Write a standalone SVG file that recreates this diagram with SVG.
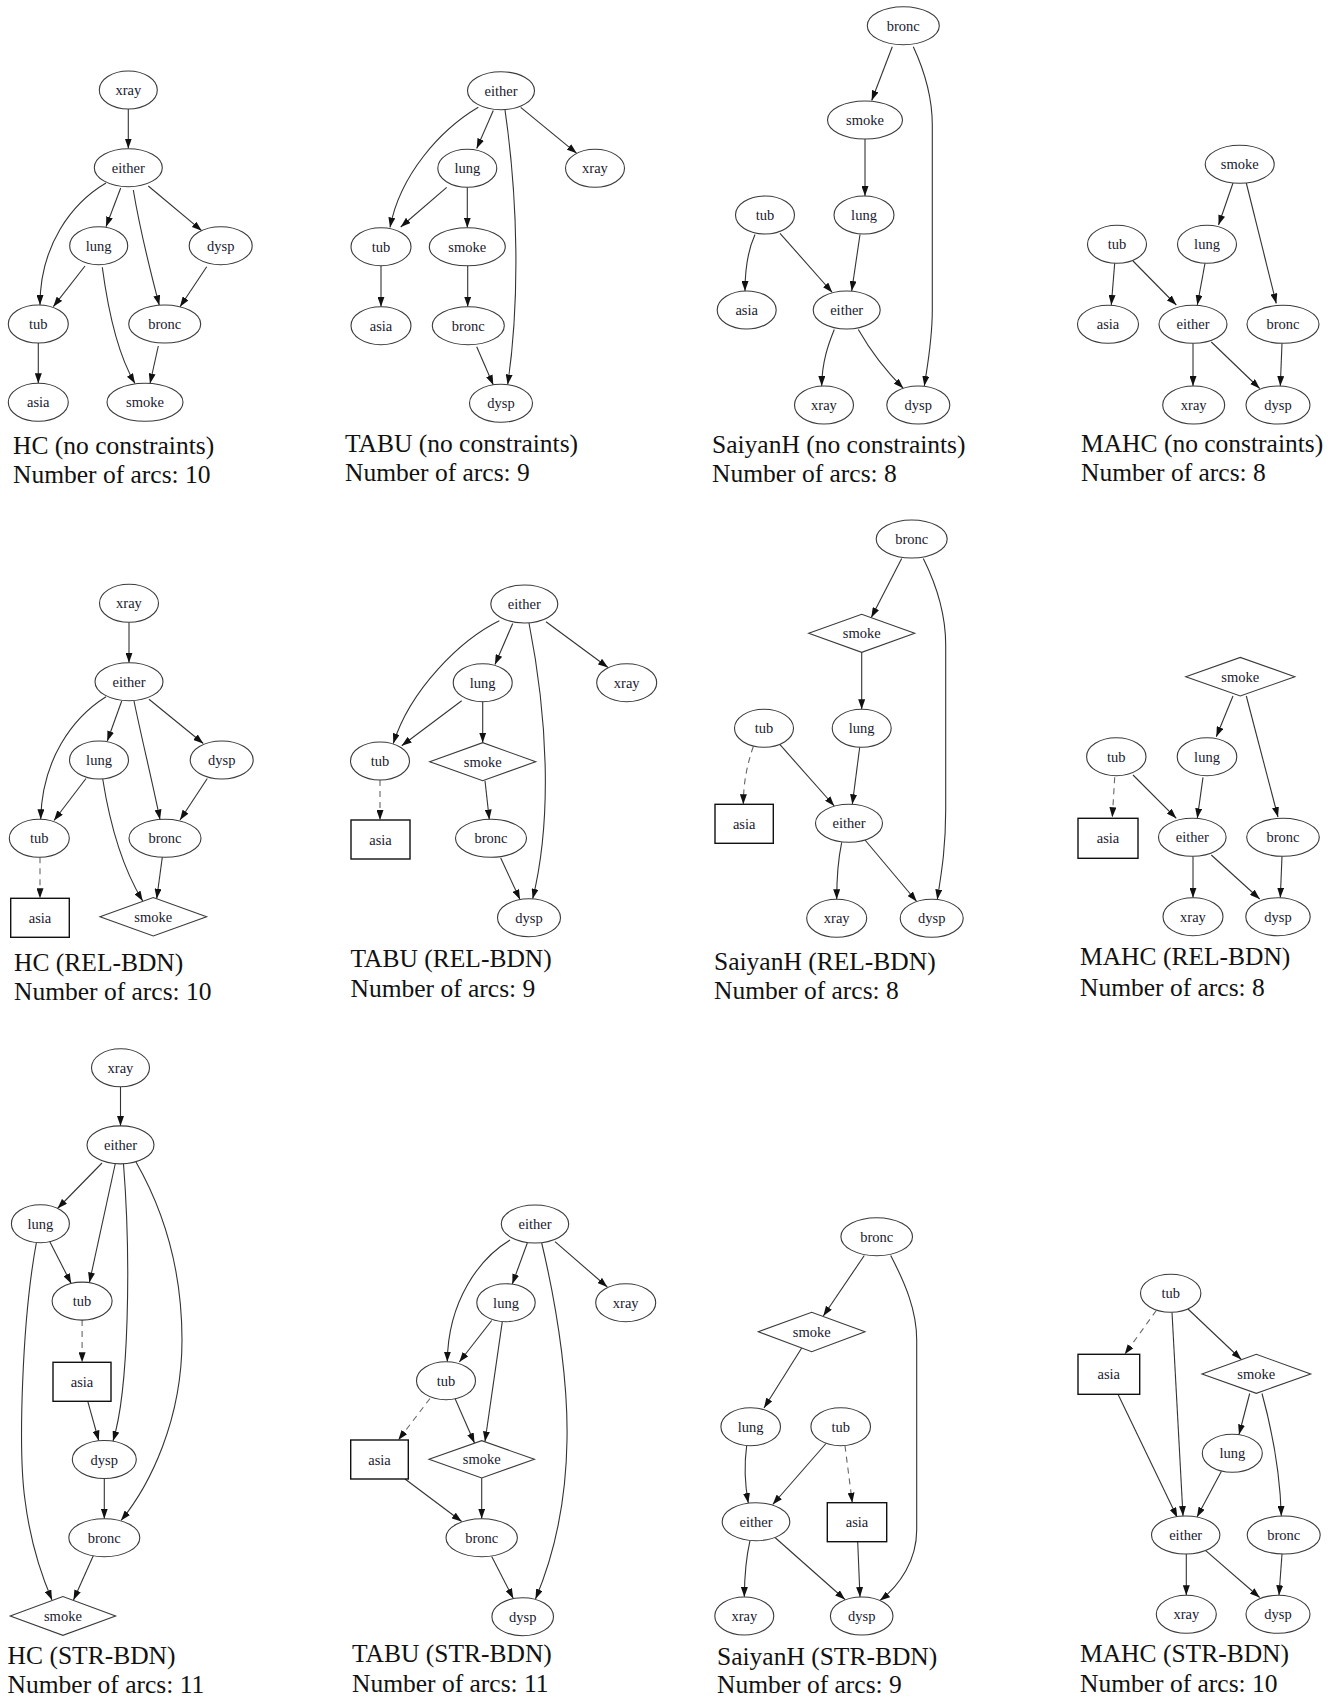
<svg xmlns="http://www.w3.org/2000/svg" width="1338" height="1702" viewBox="0 0 1338 1702">
<style>
.nd ellipse, .nd polygon {fill:#fff; stroke:#3a3a3a; stroke-width:1.1}
.nd rect {fill:#fff; stroke:#111; stroke-width:1.4}
.nd text {font-family:"Liberation Serif","Times New Roman",serif; font-size:14.5px; fill:#1a1a2e; text-anchor:middle}
.e {fill:none; stroke:#333; stroke-width:1.1; marker-end:url(#ah)}
.d {stroke-dasharray:6,5; stroke:#666}
.t {font-family:"Liberation Serif","Times New Roman",serif; font-size:25.5px; fill:#111}
</style>
<defs>
<marker id="ah" viewBox="0 0 10 7" refX="10" refY="3.5" markerWidth="10" markerHeight="7" markerUnits="userSpaceOnUse" orient="auto"><path d="M0,0 L10,3.5 L0,7 z" fill="#111"/></marker>
</defs>
<rect x="0" y="0" width="1338" height="1702" fill="#fff"/>

<!-- Panel 1: HC (no constraints) -->
<g id="p1">
<g id="p1-edges">
<path class="e" d="M128.3,109 L128.3,148.5"/>
<path class="e" d="M120.7,188 L106,226.7"/>
<path class="e" d="M106,183 C72,203 40,245 40,305"/>
<path class="e" d="M133.3,190 C140,230 150,270 159.3,305.3"/>
<path class="e" d="M148.3,186 L201.7,230.7"/>
<path class="e" d="M85,266 L53.3,306.7"/>
<path class="e" d="M102.3,267.3 C108,310 118,355 135,383.5"/>
<path class="e" d="M206.7,266.7 L180,306.7"/>
<path class="e" d="M38.3,343 L38.3,383.3"/>
<path class="e" d="M158.3,346 L150,383.5"/>
</g>
<g id="p1-xray" class="nd"><ellipse cx="128.3" cy="90" rx="29" ry="19"/><text x="128.3" y="95">xray</text></g>
<g id="p1-either" class="nd"><ellipse cx="128.3" cy="167.7" rx="34" ry="19"/><text x="128.3" y="172.7">either</text></g>
<g id="p1-lung" class="nd"><ellipse cx="98.7" cy="245.7" rx="29" ry="19"/><text x="98.7" y="250.7">lung</text></g>
<g id="p1-dysp" class="nd"><ellipse cx="220.7" cy="245.7" rx="31.5" ry="19"/><text x="220.7" y="250.7">dysp</text></g>
<g id="p1-tub" class="nd"><ellipse cx="38.3" cy="324" rx="30" ry="19"/><text x="38.3" y="329">tub</text></g>
<g id="p1-bronc" class="nd"><ellipse cx="164.7" cy="324" rx="36" ry="19"/><text x="164.7" y="329">bronc</text></g>
<g id="p1-asia" class="nd"><ellipse cx="38.3" cy="402.3" rx="30" ry="19"/><text x="38.3" y="407.3">asia</text></g>
<g id="p1-smoke" class="nd"><ellipse cx="145" cy="402.3" rx="38" ry="19"/><text x="145" y="407.3">smoke</text></g>
<text class="t" x="13" y="454">HC (no constraints)</text>
<text class="t" x="13" y="483">Number of arcs: 10</text>
</g>

<!-- Panel 2: TABU (no constraints) -->
<g id="p2">
<g id="p2-edges">
<path class="e" d="M493.3,110.5 L476.7,148.5"/>
<path class="e" d="M478.3,107.3 C440,130 400,175 390,227.5"/>
<path class="e" d="M505,110 C518,200 520,300 507.7,384.5"/>
<path class="e" d="M520.7,107.3 L576.7,153.3"/>
<path class="e" d="M446.7,187.3 L400.7,227"/>
<path class="e" d="M467.3,187.3 L467.3,227.7"/>
<path class="e" d="M381,265.7 L381,306.7"/>
<path class="e" d="M467.7,265.7 L467.7,306.7"/>
<path class="e" d="M476.7,346.7 L493.3,385"/>
</g>
<g id="p2-either" class="nd"><ellipse cx="501" cy="90.7" rx="33.5" ry="19"/><text x="501" y="95.7">either</text></g>
<g id="p2-lung" class="nd"><ellipse cx="467.3" cy="168.3" rx="29.5" ry="19"/><text x="467.3" y="173.3">lung</text></g>
<g id="p2-xray" class="nd"><ellipse cx="595" cy="168.3" rx="29.5" ry="19"/><text x="595" y="173.3">xray</text></g>
<g id="p2-tub" class="nd"><ellipse cx="381" cy="246.7" rx="30" ry="19"/><text x="381" y="251.7">tub</text></g>
<g id="p2-smoke" class="nd"><ellipse cx="467.3" cy="246.7" rx="38" ry="19"/><text x="467.3" y="251.7">smoke</text></g>
<g id="p2-asia" class="nd"><ellipse cx="381" cy="325.7" rx="30" ry="19"/><text x="381" y="330.7">asia</text></g>
<g id="p2-bronc" class="nd"><ellipse cx="468.3" cy="325.7" rx="36" ry="19"/><text x="468.3" y="330.7">bronc</text></g>
<g id="p2-dysp" class="nd"><ellipse cx="501" cy="403.3" rx="31.5" ry="19"/><text x="501" y="408.3">dysp</text></g>
<text class="t" x="345" y="452">TABU (no constraints)</text>
<text class="t" x="345" y="481">Number of arcs: 9</text>
</g>

<!-- Panel 3: SaiyanH (no constraints) -->
<g id="p3">
<g id="p3-edges">
<path class="e" d="M892.3,46.7 L871.7,100.5"/>
<path class="e" d="M913.3,46.7 C925,72 932.3,100 932.3,125 L932.3,310 C932.3,340 928,362 924.3,386"/>
<path class="e" d="M865,139 L865,196"/>
<path class="e" d="M755,234.5 C748,250 745,268 745,291"/>
<path class="e" d="M780,233.3 L832.3,292.5"/>
<path class="e" d="M860,234.5 L851.7,291"/>
<path class="e" d="M834.3,329.5 C828,345 822,362 821.7,386"/>
<path class="e" d="M858.3,329.5 C870,350 885,370 903.3,388.3"/>
</g>
<g id="p3-bronc" class="nd"><ellipse cx="903.3" cy="25.7" rx="36" ry="19"/><text x="903.3" y="30.7">bronc</text></g>
<g id="p3-smoke" class="nd"><ellipse cx="865" cy="120" rx="37.5" ry="19"/><text x="865" y="125">smoke</text></g>
<g id="p3-tub" class="nd"><ellipse cx="765" cy="215" rx="29.5" ry="19"/><text x="765" y="220">tub</text></g>
<g id="p3-lung" class="nd"><ellipse cx="864" cy="215" rx="30" ry="19"/><text x="864" y="220">lung</text></g>
<g id="p3-asia" class="nd"><ellipse cx="746.7" cy="310" rx="29.5" ry="19"/><text x="746.7" y="315">asia</text></g>
<g id="p3-either" class="nd"><ellipse cx="846.7" cy="310" rx="33.5" ry="19"/><text x="846.7" y="315">either</text></g>
<g id="p3-xray" class="nd"><ellipse cx="824" cy="405" rx="29.5" ry="19"/><text x="824" y="410">xray</text></g>
<g id="p3-dysp" class="nd"><ellipse cx="918.3" cy="405" rx="31.5" ry="19"/><text x="918.3" y="410">dysp</text></g>
<text class="t" x="712" y="453">SaiyanH (no constraints)</text>
<text class="t" x="712" y="482">Number of arcs: 8</text>
</g>

<!-- Panel 4: MAHC (no constraints) -->
<g id="p4">
<g id="p4-edges">
<path class="e" d="M1233,183 L1218.5,225"/>
<path class="e" d="M1246.3,183 L1276.3,303.5"/>
<path class="e" d="M1114.7,263.3 L1111.3,305"/>
<path class="e" d="M1133,261 L1176.3,305"/>
<path class="e" d="M1205,263.3 L1197.3,305"/>
<path class="e" d="M1193,343.3 L1193,386"/>
<path class="e" d="M1211.3,342 L1259.7,388.5"/>
<path class="e" d="M1282,343.3 L1280.3,386"/>
</g>
<g id="p4-smoke" class="nd"><ellipse cx="1239.7" cy="164.3" rx="34.5" ry="19"/><text x="1239.7" y="169.3">smoke</text></g>
<g id="p4-tub" class="nd"><ellipse cx="1117" cy="244.3" rx="29.5" ry="19"/><text x="1117" y="249.3">tub</text></g>
<g id="p4-lung" class="nd"><ellipse cx="1207" cy="244.3" rx="29.5" ry="19"/><text x="1207" y="249.3">lung</text></g>
<g id="p4-asia" class="nd"><ellipse cx="1108" cy="324.3" rx="30.5" ry="19"/><text x="1108" y="329.3">asia</text></g>
<g id="p4-either" class="nd"><ellipse cx="1193" cy="324.3" rx="34" ry="19"/><text x="1193" y="329.3">either</text></g>
<g id="p4-bronc" class="nd"><ellipse cx="1283" cy="324.3" rx="36" ry="19"/><text x="1283" y="329.3">bronc</text></g>
<g id="p4-xray" class="nd"><ellipse cx="1193.7" cy="405" rx="31" ry="19"/><text x="1193.7" y="410">xray</text></g>
<g id="p4-dysp" class="nd"><ellipse cx="1278" cy="405" rx="32" ry="19"/><text x="1278" y="410">dysp</text></g>
<text class="t" x="1081" y="452">MAHC (no constraints)</text>
<text class="t" x="1081" y="481">Number of arcs: 8</text>
</g>

<!-- Panel 5: HC (REL-BDN) -->
<g id="p5">
<g id="p5-edges">
<path class="e" d="M129,622.3 L129,662.7"/>
<path class="e" d="M121.7,701 L107.3,741"/>
<path class="e" d="M106,696.7 C72,718 42,760 40.7,819.3"/>
<path class="e" d="M134,701 C142,740 152,780 160,819.5"/>
<path class="e" d="M149,699.3 L203.3,743.5"/>
<path class="e" d="M86,778.5 L54,820.5"/>
<path class="e" d="M102.7,779 C110,825 122,867 142.7,901"/>
<path class="e" d="M207.3,778.5 L180,820"/>
<path class="e d" d="M40,857.3 L40,898.3"/>
<path class="e" d="M162.3,857.3 L156.7,898.7"/>
</g>
<g id="p5-xray" class="nd"><ellipse cx="129" cy="603.3" rx="29.5" ry="19"/><text x="129" y="608.3">xray</text></g>
<g id="p5-either" class="nd"><ellipse cx="129" cy="681.7" rx="34" ry="19"/><text x="129" y="686.7">either</text></g>
<g id="p5-lung" class="nd"><ellipse cx="99" cy="760" rx="29.5" ry="19"/><text x="99" y="765">lung</text></g>
<g id="p5-dysp" class="nd"><ellipse cx="221.7" cy="760" rx="31.5" ry="19"/><text x="221.7" y="765">dysp</text></g>
<g id="p5-tub" class="nd"><ellipse cx="39.3" cy="838.3" rx="30" ry="19"/><text x="39.3" y="843.3">tub</text></g>
<g id="p5-bronc" class="nd"><ellipse cx="165" cy="838.3" rx="36" ry="19"/><text x="165" y="843.3">bronc</text></g>
<g id="p5-asia" class="nd"><rect x="10.7" y="898.3" width="58.6" height="39"/><text x="40" y="922.8">asia</text></g>
<g id="p5-smoke" class="nd"><polygon points="100,916.7 153.3,897.5 206.6,916.7 153.3,935.9"/><text x="153.3" y="921.7">smoke</text></g>
<text class="t" x="14" y="970.6">HC (REL-BDN)</text>
<text class="t" x="14" y="1000">Number of arcs: 10</text>
</g>

<!-- Panel 6: TABU (REL-BDN) -->
<g id="p6">
<g id="p6-edges">
<path class="e" d="M512.7,623.5 L495,664.5"/>
<path class="e" d="M499.3,620.7 C460,640 410,690 393.3,743.5"/>
<path class="e" d="M529,623 C548,720 552,820 532.7,898.7"/>
<path class="e" d="M546,621.7 L608,667.5"/>
<path class="e" d="M461.7,700.7 L401.7,745.7"/>
<path class="e" d="M482.7,701.7 L482.7,742.7"/>
<path class="e d" d="M380,780 L380,820"/>
<path class="e" d="M485,780.7 L489.3,819.5"/>
<path class="e" d="M500.7,858 L520,899.5"/>
</g>
<g id="p6-either" class="nd"><ellipse cx="524.3" cy="604" rx="33.5" ry="19"/><text x="524.3" y="609">either</text></g>
<g id="p6-lung" class="nd"><ellipse cx="482.7" cy="682.7" rx="29.5" ry="19"/><text x="482.7" y="687.7">lung</text></g>
<g id="p6-xray" class="nd"><ellipse cx="626.7" cy="682.7" rx="30" ry="19"/><text x="626.7" y="687.7">xray</text></g>
<g id="p6-tub" class="nd"><ellipse cx="380" cy="761" rx="29.5" ry="19"/><text x="380" y="766">tub</text></g>
<g id="p6-smoke" class="nd"><polygon points="429.7,761.7 482.7,742.7 535.7,761.7 482.7,780.7"/><text x="482.7" y="766.7">smoke</text></g>
<g id="p6-asia" class="nd"><rect x="351" y="820" width="59" height="39"/><text x="380.5" y="844.5">asia</text></g>
<g id="p6-bronc" class="nd"><ellipse cx="491" cy="838.3" rx="35.5" ry="19"/><text x="491" y="843.3">bronc</text></g>
<g id="p6-dysp" class="nd"><ellipse cx="529" cy="917.7" rx="31.5" ry="19"/><text x="529" y="922.7">dysp</text></g>
<text class="t" x="350.5" y="967.3">TABU (REL-BDN)</text>
<text class="t" x="350.5" y="996.6">Number of arcs: 9</text>
</g>

<!-- Panel 7: SaiyanH (REL-BDN) -->
<g id="p7">
<g id="p7-edges">
<path class="e" d="M901.7,558.5 L871.3,617.5"/>
<path class="e" d="M923.3,558.5 C938,588 945.7,615 945.7,645 L945.7,810 C945.7,850 941,875 937.3,899.5"/>
<path class="e" d="M861.7,652.3 L861.7,709.3"/>
<path class="e d" d="M753.3,746.5 C747,765 743.5,782 743.3,804.3"/>
<path class="e" d="M780,744.7 L834.3,806"/>
<path class="e" d="M859.7,747.3 L852.3,804.3"/>
<path class="e" d="M841.7,842.3 C838,860 836.7,878 836.7,899.3"/>
<path class="e" d="M865,840 L916.7,901.5"/>
</g>
<g id="p7-bronc" class="nd"><ellipse cx="911.7" cy="539" rx="35.5" ry="19"/><text x="911.7" y="544">bronc</text></g>
<g id="p7-smoke" class="nd"><polygon points="808.7,633.3 861.7,614.3 914.7,633.3 861.7,652.3"/><text x="861.7" y="638.3">smoke</text></g>
<g id="p7-tub" class="nd"><ellipse cx="764" cy="728.3" rx="29.5" ry="19"/><text x="764" y="733.3">tub</text></g>
<g id="p7-lung" class="nd"><ellipse cx="861.7" cy="728.3" rx="29.5" ry="19"/><text x="861.7" y="733.3">lung</text></g>
<g id="p7-asia" class="nd"><rect x="715" y="804.3" width="58.3" height="39"/><text x="744.2" y="828.8">asia</text></g>
<g id="p7-either" class="nd"><ellipse cx="849" cy="823.3" rx="33.5" ry="19"/><text x="849" y="828.3">either</text></g>
<g id="p7-xray" class="nd"><ellipse cx="836.7" cy="918.3" rx="30" ry="19"/><text x="836.7" y="923.3">xray</text></g>
<g id="p7-dysp" class="nd"><ellipse cx="931.7" cy="918.3" rx="31.5" ry="19"/><text x="931.7" y="923.3">dysp</text></g>
<text class="t" x="714" y="969.5">SaiyanH (REL-BDN)</text>
<text class="t" x="714" y="998.8">Number of arcs: 8</text>
</g>

<!-- Panel 8: MAHC (REL-BDN) -->
<g id="p8">
<g id="p8-edges">
<path class="e" d="M1233,696 L1216.3,736.7"/>
<path class="e" d="M1246.3,696 L1278,817"/>
<path class="e d" d="M1114.7,777.3 L1112.3,817.3"/>
<path class="e" d="M1133,775 L1176.3,818.3"/>
<path class="e" d="M1203,777.3 L1197.3,818.3"/>
<path class="e" d="M1193,856.3 L1193,897.7"/>
<path class="e" d="M1211.3,855 L1259.7,899"/>
<path class="e" d="M1282,856.3 L1280.3,897.7"/>
</g>
<g id="p8-smoke" class="nd"><polygon points="1185.8,676.7 1240.3,657.4 1294.8,676.7 1240.3,696"/><text x="1240.3" y="681.7">smoke</text></g>
<g id="p8-tub" class="nd"><ellipse cx="1116.3" cy="756.7" rx="29.7" ry="19"/><text x="1116.3" y="761.7">tub</text></g>
<g id="p8-lung" class="nd"><ellipse cx="1207" cy="756.7" rx="29.8" ry="19"/><text x="1207" y="761.7">lung</text></g>
<g id="p8-asia" class="nd"><rect x="1078" y="818.3" width="60" height="40"/><text x="1108" y="843.3">asia</text></g>
<g id="p8-either" class="nd"><ellipse cx="1192.3" cy="837.3" rx="33.8" ry="19"/><text x="1192.3" y="842.3">either</text></g>
<g id="p8-bronc" class="nd"><ellipse cx="1283" cy="837.3" rx="36.3" ry="19"/><text x="1283" y="842.3">bronc</text></g>
<g id="p8-xray" class="nd"><ellipse cx="1193" cy="916.7" rx="30" ry="19"/><text x="1193" y="921.7">xray</text></g>
<g id="p8-dysp" class="nd"><ellipse cx="1278" cy="916.7" rx="32.2" ry="19"/><text x="1278" y="921.7">dysp</text></g>
<text class="t" x="1080" y="965">MAHC (REL-BDN)</text>
<text class="t" x="1080" y="995.5">Number of arcs: 8</text>
</g>

<!-- Panel 9: HC (STR-BDN) -->
<g id="p9">
<g id="p9-edges">
<path class="e" d="M120.5,1086.8 L120.5,1126"/>
<path class="e" d="M102,1163 L57.5,1208.5"/>
<path class="e" d="M115.2,1164 L89.4,1282.5"/>
<path class="e" d="M123.5,1164 C131,1260 129,1390 113,1441"/>
<path class="e" d="M136,1162 C172,1225 182,1290 182,1340 C182,1420 150,1485 121,1520.5"/>
<path class="e" d="M49.7,1241.5 L71.2,1283.5"/>
<path class="e" d="M36.4,1242.5 C22,1320 18,1450 25,1500 C30,1540 40,1572 52,1600"/>
<path class="e d" d="M82.1,1320 L82.1,1362.3"/>
<path class="e" d="M87.7,1401.2 L98.7,1440.5"/>
<path class="e" d="M104.3,1478.5 L104.3,1518.7"/>
<path class="e" d="M93.4,1555.5 L73.5,1600"/>
</g>
<g id="p9-xray" class="nd"><ellipse cx="120.5" cy="1067.8" rx="29" ry="19"/><text x="120.5" y="1072.8">xray</text></g>
<g id="p9-either" class="nd"><ellipse cx="120.5" cy="1144.9" rx="33.5" ry="19"/><text x="120.5" y="1149.9">either</text></g>
<g id="p9-lung" class="nd"><ellipse cx="40.4" cy="1223.7" rx="29" ry="19"/><text x="40.4" y="1228.7">lung</text></g>
<g id="p9-tub" class="nd"><ellipse cx="82.1" cy="1301.1" rx="30" ry="19"/><text x="82.1" y="1306.1">tub</text></g>
<g id="p9-asia" class="nd"><rect x="53" y="1362.3" width="58" height="39"/><text x="82" y="1386.8">asia</text></g>
<g id="p9-dysp" class="nd"><ellipse cx="104.3" cy="1459.5" rx="32" ry="19"/><text x="104.3" y="1464.5">dysp</text></g>
<g id="p9-bronc" class="nd"><ellipse cx="104.3" cy="1537.7" rx="35.5" ry="19"/><text x="104.3" y="1542.7">bronc</text></g>
<g id="p9-smoke" class="nd"><polygon points="10.2,1615.9 62.9,1596.5 115.6,1615.9 62.9,1635.3"/><text x="62.9" y="1620.9">smoke</text></g>
<text class="t" x="7.6" y="1664">HC (STR-BDN)</text>
<text class="t" x="7.6" y="1693.3">Number of arcs: 11</text>
</g>

<!-- Panel 10: TABU (STR-BDN) -->
<g id="p10">
<g id="p10-edges">
<path class="e" d="M527.3,1243 L512.3,1284"/>
<path class="e" d="M510,1240 C480,1258 448,1300 447.3,1361.7"/>
<path class="e" d="M541.7,1243 C560,1320 568,1390 567,1440 C566,1510 552,1560 535.5,1599"/>
<path class="e" d="M555,1241.7 L607.3,1287"/>
<path class="e" d="M491.7,1320.5 L459.3,1362"/>
<path class="e" d="M502.3,1321.7 L485,1441.5"/>
<path class="e d" d="M430,1398.5 L398.3,1440"/>
<path class="e" d="M455,1398.5 L474.5,1443"/>
<path class="e" d="M405,1479 L461.7,1521.5"/>
<path class="e" d="M481.7,1478 L481.7,1518.7"/>
<path class="e" d="M491.7,1556.5 L513.3,1598.5"/>
</g>
<g id="p10-either" class="nd"><ellipse cx="535" cy="1224" rx="33.7" ry="19"/><text x="535" y="1229">either</text></g>
<g id="p10-lung" class="nd"><ellipse cx="506" cy="1302.7" rx="29.2" ry="19"/><text x="506" y="1307.7">lung</text></g>
<g id="p10-xray" class="nd"><ellipse cx="625.7" cy="1302.7" rx="30" ry="19"/><text x="625.7" y="1307.7">xray</text></g>
<g id="p10-tub" class="nd"><ellipse cx="446" cy="1380.7" rx="29.5" ry="19"/><text x="446" y="1385.7">tub</text></g>
<g id="p10-asia" class="nd"><rect x="350.7" y="1440" width="57.6" height="39"/><text x="379.5" y="1464.5">asia</text></g>
<g id="p10-smoke" class="nd"><polygon points="429,1459.3 481.7,1440.7 534.4,1459.3 481.7,1478"/><text x="481.7" y="1464.3">smoke</text></g>
<g id="p10-bronc" class="nd"><ellipse cx="481.7" cy="1537.7" rx="35.7" ry="19"/><text x="481.7" y="1542.7">bronc</text></g>
<g id="p10-dysp" class="nd"><ellipse cx="522.7" cy="1616.7" rx="30.8" ry="19"/><text x="522.7" y="1621.7">dysp</text></g>
<text class="t" x="352" y="1662">TABU (STR-BDN)</text>
<text class="t" x="352" y="1692">Number of arcs: 11</text>
</g>

<!-- Panel 11: SaiyanH (STR-BDN) -->
<g id="p11">
<g id="p11-edges">
<path class="e" d="M864.3,1255.5 L823.3,1316"/>
<path class="e" d="M890.7,1255.5 C905,1283 916.7,1310 916.7,1340 L916.7,1530 C916.7,1560 900,1585 880,1600.5"/>
<path class="e" d="M801.7,1348 L764,1408"/>
<path class="e" d="M746.7,1445.7 C744,1465 745,1485 748.3,1503"/>
<path class="e" d="M826,1443.5 L772.7,1504.5"/>
<path class="e d" d="M845,1445.7 L852.3,1502.7"/>
<path class="e" d="M750,1540.7 C746,1558 744.5,1576 744.3,1597"/>
<path class="e" d="M775,1537.5 L845,1599.5"/>
<path class="e" d="M857.7,1541.7 L860,1597"/>
</g>
<g id="p11-bronc" class="nd"><ellipse cx="876.7" cy="1236.7" rx="35.8" ry="19"/><text x="876.7" y="1241.7">bronc</text></g>
<g id="p11-smoke" class="nd"><polygon points="758.3,1331.7 811.7,1312.3 865,1331.7 811.7,1351.7"/><text x="811.7" y="1336.7">smoke</text></g>
<g id="p11-lung" class="nd"><ellipse cx="750.7" cy="1426.7" rx="29.8" ry="19"/><text x="750.7" y="1431.7">lung</text></g>
<g id="p11-tub" class="nd"><ellipse cx="840.7" cy="1426.7" rx="29.8" ry="19"/><text x="840.7" y="1431.7">tub</text></g>
<g id="p11-either" class="nd"><ellipse cx="756" cy="1521.7" rx="33.8" ry="19"/><text x="756" y="1526.7">either</text></g>
<g id="p11-asia" class="nd"><rect x="827.3" y="1502.7" width="59.4" height="39"/><text x="857" y="1527.2">asia</text></g>
<g id="p11-xray" class="nd"><ellipse cx="744.3" cy="1616" rx="29.5" ry="19"/><text x="744.3" y="1621">xray</text></g>
<g id="p11-dysp" class="nd"><ellipse cx="861.7" cy="1616" rx="31.3" ry="19"/><text x="861.7" y="1621">dysp</text></g>
<text class="t" x="717" y="1664.5">SaiyanH (STR-BDN)</text>
<text class="t" x="717" y="1693">Number of arcs: 9</text>
</g>

<!-- Panel 12: MAHC (STR-BDN) -->
<g id="p12">
<g id="p12-edges">
<path class="e d" d="M1156.3,1310.5 L1124.7,1354.3"/>
<path class="e" d="M1172,1312.3 L1183,1516"/>
<path class="e" d="M1188,1309 L1241.3,1359.5"/>
<path class="e" d="M1118,1394.3 L1177.3,1517.5"/>
<path class="e" d="M1249.7,1393.5 L1239,1434.5"/>
<path class="e" d="M1262,1393.5 C1272,1430 1280,1470 1281.3,1516"/>
<path class="e" d="M1221.3,1471.5 L1197,1517"/>
<path class="e" d="M1186.3,1554 L1186.3,1595.3"/>
<path class="e" d="M1205.7,1550.7 L1259.7,1597.5"/>
<path class="e" d="M1282,1554 L1279,1595.3"/>
</g>
<g id="p12-tub" class="nd"><ellipse cx="1170.7" cy="1293.3" rx="30.2" ry="19"/><text x="1170.7" y="1298.3">tub</text></g>
<g id="p12-asia" class="nd"><rect x="1078" y="1354.3" width="61.7" height="40"/><text x="1108.8" y="1379.3">asia</text></g>
<g id="p12-smoke" class="nd"><polygon points="1202,1374 1256.3,1354.3 1310.7,1374 1256.3,1393.3"/><text x="1256.3" y="1379">smoke</text></g>
<g id="p12-lung" class="nd"><ellipse cx="1232.3" cy="1453.3" rx="30" ry="19"/><text x="1232.3" y="1458.3">lung</text></g>
<g id="p12-either" class="nd"><ellipse cx="1185.7" cy="1535" rx="34.2" ry="19"/><text x="1185.7" y="1540">either</text></g>
<g id="p12-bronc" class="nd"><ellipse cx="1283.7" cy="1535" rx="36.5" ry="19"/><text x="1283.7" y="1540">bronc</text></g>
<g id="p12-xray" class="nd"><ellipse cx="1186.3" cy="1614.3" rx="30" ry="19"/><text x="1186.3" y="1619.3">xray</text></g>
<g id="p12-dysp" class="nd"><ellipse cx="1278" cy="1614.3" rx="32" ry="19"/><text x="1278" y="1619.3">dysp</text></g>
<text class="t" x="1080" y="1662">MAHC (STR-BDN)</text>
<text class="t" x="1080" y="1691.5">Number of arcs: 10</text>
</g>
</svg>
